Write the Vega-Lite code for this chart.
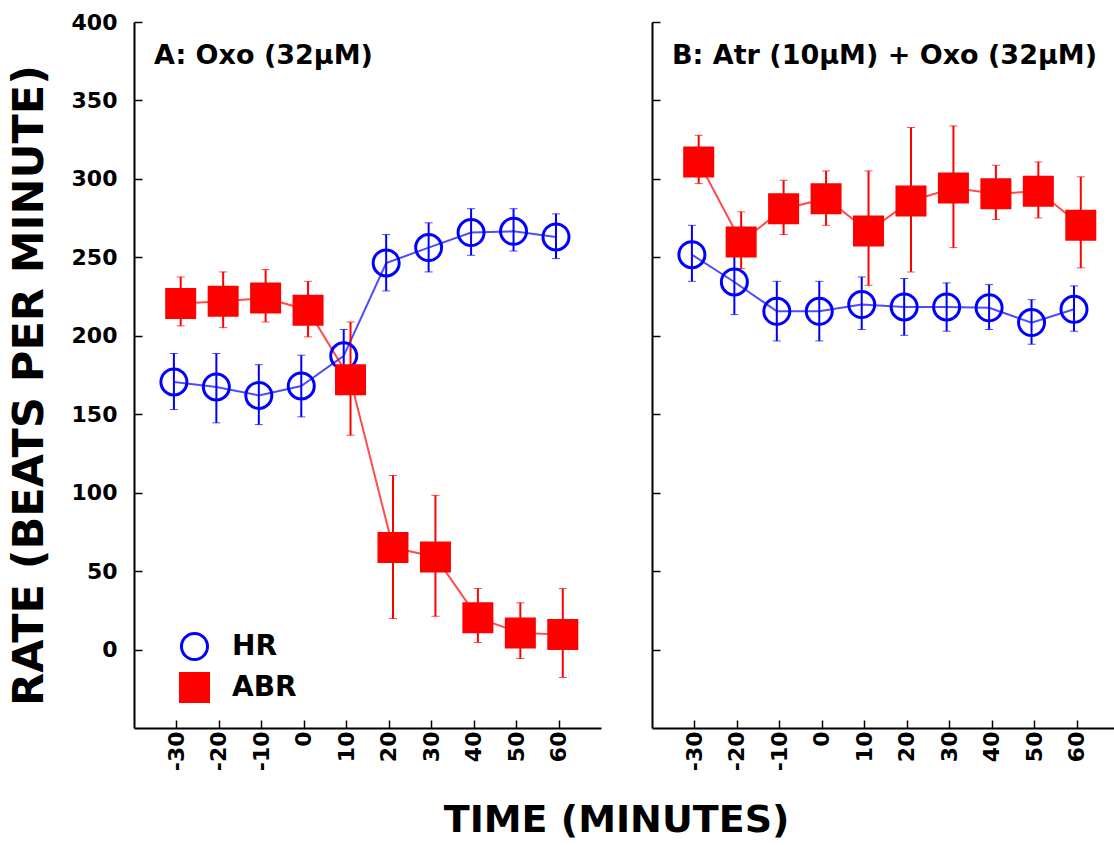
{
  "$schema": "https://vega.github.io/schema/vega-lite/v6.json",
  "background": "white",
  "padding": {"left": 8, "top": 11, "right": 0, "bottom": 5},
  "datasets": {
    "d": [
      {"panel": "A", "series": "HR", "time": -30.6, "rate": 170.6, "lo": 153.0, "hi": 188.7},
      {"panel": "A", "series": "HR", "time": -20.6, "rate": 167.4, "lo": 144.5, "hi": 188.7},
      {"panel": "A", "series": "HR", "time": -10.6, "rate": 162.0, "lo": 143.4, "hi": 181.6},
      {"panel": "A", "series": "HR", "time": -0.6, "rate": 168.0, "lo": 148.3, "hi": 187.6},
      {"panel": "A", "series": "HR", "time": 9.4, "rate": 187.2, "lo": 170.0, "hi": 204.0},
      {"panel": "A", "series": "HR", "time": 19.4, "rate": 246.4, "lo": 228.6, "hi": 264.5},
      {"panel": "A", "series": "HR", "time": 29.4, "rate": 256.2, "lo": 240.7, "hi": 272.0},
      {"panel": "A", "series": "HR", "time": 39.4, "rate": 265.8, "lo": 251.3, "hi": 281.0},
      {"panel": "A", "series": "HR", "time": 49.4, "rate": 266.6, "lo": 254.0, "hi": 281.0},
      {"panel": "A", "series": "HR", "time": 59.4, "rate": 263.0, "lo": 249.2, "hi": 277.7},
      {"panel": "A", "series": "ABR", "time": -29.0, "rate": 220.5, "lo": 206.3, "hi": 237.5},
      {"panel": "A", "series": "ABR", "time": -19.0, "rate": 222.0, "lo": 205.2, "hi": 240.7},
      {"panel": "A", "series": "ABR", "time": -9.0, "rate": 224.1, "lo": 208.8, "hi": 242.2},
      {"panel": "A", "series": "ABR", "time": 1.0, "rate": 216.3, "lo": 199.3, "hi": 234.7},
      {"panel": "A", "series": "ABR", "time": 11.0, "rate": 172.0, "lo": 136.6, "hi": 208.8},
      {"panel": "A", "series": "ABR", "time": 21.0, "rate": 65.0, "lo": 19.8, "hi": 111.0},
      {"panel": "A", "series": "ABR", "time": 31.0, "rate": 59.0, "lo": 21.2, "hi": 98.3},
      {"panel": "A", "series": "ABR", "time": 41.0, "rate": 20.2, "lo": 4.5, "hi": 38.9},
      {"panel": "A", "series": "ABR", "time": 51.0, "rate": 10.6, "lo": -5.7, "hi": 29.8},
      {"panel": "A", "series": "ABR", "time": 61.0, "rate": 9.6, "lo": -17.8, "hi": 38.9},
      {"panel": "B", "series": "HR", "time": -30.6, "rate": 251.7, "lo": 234.7, "hi": 270.4},
      {"panel": "B", "series": "HR", "time": -20.6, "rate": 234.3, "lo": 213.5, "hi": 255.0},
      {"panel": "B", "series": "HR", "time": -10.6, "rate": 215.6, "lo": 196.7, "hi": 234.7},
      {"panel": "B", "series": "HR", "time": -0.6, "rate": 215.6, "lo": 196.7, "hi": 234.7},
      {"panel": "B", "series": "HR", "time": 9.4, "rate": 219.9, "lo": 204.0, "hi": 237.5},
      {"panel": "B", "series": "HR", "time": 19.4, "rate": 218.4, "lo": 200.3, "hi": 236.5},
      {"panel": "B", "series": "HR", "time": 29.4, "rate": 218.4, "lo": 202.9, "hi": 233.7},
      {"panel": "B", "series": "HR", "time": 39.4, "rate": 217.8, "lo": 204.0, "hi": 232.6},
      {"panel": "B", "series": "HR", "time": 49.4, "rate": 208.4, "lo": 194.6, "hi": 223.0},
      {"panel": "B", "series": "HR", "time": 59.4, "rate": 216.9, "lo": 202.9, "hi": 231.8},
      {"panel": "B", "series": "ABR", "time": -29.0, "rate": 310.8, "lo": 297.0, "hi": 327.8},
      {"panel": "B", "series": "ABR", "time": -19.0, "rate": 259.8, "lo": 242.8, "hi": 279.0},
      {"panel": "B", "series": "ABR", "time": -9.0, "rate": 281.0, "lo": 264.5, "hi": 299.1},
      {"panel": "B", "series": "ABR", "time": 1.0, "rate": 287.4, "lo": 270.4, "hi": 305.1},
      {"panel": "B", "series": "ABR", "time": 11.0, "rate": 266.8, "lo": 232.2, "hi": 305.1},
      {"panel": "B", "series": "ABR", "time": 21.0, "rate": 285.9, "lo": 240.7, "hi": 332.7},
      {"panel": "B", "series": "ABR", "time": 31.0, "rate": 294.2, "lo": 256.2, "hi": 333.8},
      {"panel": "B", "series": "ABR", "time": 41.0, "rate": 290.6, "lo": 274.1, "hi": 308.7},
      {"panel": "B", "series": "ABR", "time": 51.0, "rate": 292.1, "lo": 275.1, "hi": 310.8},
      {"panel": "B", "series": "ABR", "time": 61.0, "rate": 270.4, "lo": 243.3, "hi": 301.3}
    ]
  },
  "title": {"text": "TIME (MINUTES)", "orient": "bottom", "anchor": "middle", "fontSize": 38, "font": "DejaVu Sans", "fontWeight": "bold", "color": "#000", "offset": 31, "dx": 53},
  "spacing": 50,
  "resolve": {"legend": {"fill": "independent", "stroke": "independent", "shape": "independent", "size": "independent"}},
  "config": {
    "view": {"stroke": null},
    "font": "DejaVu Sans",
    "axis": {"grid": false, "domainColor": "#000", "domainWidth": 2, "tickColor": "#000", "tickWidth": 1.5, "tickSize": -8, "labelFont": "DejaVu Sans", "labelFontWeight": "bold", "labelFontSize": 22, "labelColor": "#000", "titleFont": "DejaVu Sans", "titleFontWeight": "bold", "titleColor": "#000"}
  },
  "hconcat": [
    {
      "width": 467,
      "height": 706,
      "data": {"name": "d"},
      "transform": [{"filter": "datum.panel === 'A'"}],
      "layer": [
        {
          "transform": [{"filter": "datum.series === 'HR'"}],
          "mark": {"type": "line", "color": "#0000ff", "strokeWidth": 2, "opacity": 0.7},
          "encoding": {
            "x": {"field": "time", "type": "quantitative", "scale": {"domain": [-40, 70], "nice": false, "zero": false}, "axis": {"values": [-30, -20, -10, 0, 10, 20, 30, 40, 50, 60], "labelExpr": "'' + datum.value", "labelAngle": 270, "labelPadding": 11, "title": null}},
            "y": {"field": "rate", "type": "quantitative", "scale": {"domain": [-50, 400], "nice": false, "zero": false}, "axis": {"values": [0, 50, 100, 150, 200, 250, 300, 350, 400], "labelPadding": 25, "title": "RATE (BEATS PER MINUTE)", "titleFontSize": 43, "titlePadding": 20, "titleY": 363}}
          }
        },
        {
          "transform": [{"filter": "datum.series === 'HR'"}],
          "mark": {"type": "errorbar", "color": "#0000ff", "rule": {"strokeWidth": 2}, "ticks": {"size": 8, "strokeWidth": 2}},
          "encoding": {"x": {"field": "time", "type": "quantitative", "title": null}, "y": {"field": "lo", "type": "quantitative", "title": "RATE (BEATS PER MINUTE)"}, "y2": {"field": "hi"}}
        },
        {
          "transform": [{"filter": "datum.series === 'ABR'"}],
          "mark": {"type": "line", "color": "#ff0000", "strokeWidth": 2, "opacity": 0.7},
          "encoding": {"x": {"field": "time", "type": "quantitative", "title": null}, "y": {"field": "rate", "type": "quantitative", "title": "RATE (BEATS PER MINUTE)"}}
        },
        {
          "transform": [{"filter": "datum.series === 'ABR'"}],
          "mark": {"type": "errorbar", "color": "#ff0000", "rule": {"strokeWidth": 2}, "ticks": {"size": 8, "strokeWidth": 2}},
          "encoding": {"x": {"field": "time", "type": "quantitative", "title": null}, "y": {"field": "lo", "type": "quantitative", "title": "RATE (BEATS PER MINUTE)"}, "y2": {"field": "hi"}}
        },
        {
          "mark": {"type": "point", "strokeWidth": 3, "opacity": 1},
          "encoding": {
            "x": {"field": "time", "type": "quantitative", "title": null},
            "y": {"field": "rate", "type": "quantitative", "title": "RATE (BEATS PER MINUTE)"},
            "shape": {"field": "series", "type": "nominal", "scale": {"domain": ["HR", "ABR"], "range": ["circle", "square"]}, "legend": {"title": null, "orient": "none", "legendX": 45, "legendY": 610, "labelFontSize": 28, "labelFont": "DejaVu Sans", "labelFontWeight": "bold", "labelColor": "#000", "symbolStrokeWidth": 3, "rowPadding": 1, "labelOffset": 22, "padding": 0}},
            "fill": {"field": "series", "type": "nominal", "scale": {"domain": ["HR", "ABR"], "range": ["transparent", "#ff0000"]}, "legend": {"title": null, "orient": "none", "legendX": 45, "legendY": 610, "labelFontSize": 28, "labelFont": "DejaVu Sans", "labelFontWeight": "bold", "labelColor": "#000", "symbolStrokeWidth": 3, "rowPadding": 1, "labelOffset": 22, "padding": 0}},
            "stroke": {"field": "series", "type": "nominal", "scale": {"domain": ["HR", "ABR"], "range": ["#0000ff", "#ff0000"]}, "legend": {"title": null, "orient": "none", "legendX": 45, "legendY": 610, "labelFontSize": 28, "labelFont": "DejaVu Sans", "labelFontWeight": "bold", "labelColor": "#000", "symbolStrokeWidth": 3, "rowPadding": 1, "labelOffset": 22, "padding": 0}},
            "size": {"field": "series", "type": "nominal", "scale": {"domain": ["HR", "ABR"], "range": [676, 784]}, "legend": {"title": null, "orient": "none", "legendX": 45, "legendY": 610, "labelFontSize": 28, "labelFont": "DejaVu Sans", "labelFontWeight": "bold", "labelColor": "#000", "symbolStrokeWidth": 3, "rowPadding": 1, "labelOffset": 22, "padding": 0}}
          }
        },
        {
          "data": {"values": [{"panel": "A", "label": "A: Oxo (32μM)"}]},
          "mark": {"type": "text", "align": "left", "baseline": "alphabetic", "dx": 20, "dy": 42, "fontSize": 27, "font": "DejaVu Sans", "fontWeight": "bold", "color": "#000"},
          "encoding": {"x": {"datum": -40}, "y": {"datum": 400}, "text": {"field": "label"}}
        }
      ]
    },
    {
      "width": 467,
      "height": 706,
      "data": {"name": "d"},
      "transform": [{"filter": "datum.panel === 'B'"}],
      "layer": [
        {
          "transform": [{"filter": "datum.series === 'HR'"}],
          "mark": {"type": "line", "color": "#0000ff", "strokeWidth": 2, "opacity": 0.7},
          "encoding": {
            "x": {"field": "time", "type": "quantitative", "scale": {"domain": [-40, 70], "nice": false, "zero": false}, "axis": {"values": [-30, -20, -10, 0, 10, 20, 30, 40, 50, 60], "labelExpr": "'' + datum.value", "labelAngle": 270, "labelPadding": 11, "title": null}},
            "y": {"field": "rate", "type": "quantitative", "scale": {"domain": [-50, 400], "nice": false, "zero": false}, "axis": {"values": [0, 50, 100, 150, 200, 250, 300, 350, 400], "labels": false, "title": null}}
          }
        },
        {
          "transform": [{"filter": "datum.series === 'HR'"}],
          "mark": {"type": "errorbar", "color": "#0000ff", "rule": {"strokeWidth": 2}, "ticks": {"size": 8, "strokeWidth": 2}},
          "encoding": {"x": {"field": "time", "type": "quantitative", "title": null}, "y": {"field": "lo", "type": "quantitative", "title": null}, "y2": {"field": "hi"}}
        },
        {
          "transform": [{"filter": "datum.series === 'ABR'"}],
          "mark": {"type": "line", "color": "#ff0000", "strokeWidth": 2, "opacity": 0.7},
          "encoding": {"x": {"field": "time", "type": "quantitative", "title": null}, "y": {"field": "rate", "type": "quantitative", "title": null}}
        },
        {
          "transform": [{"filter": "datum.series === 'ABR'"}],
          "mark": {"type": "errorbar", "color": "#ff0000", "rule": {"strokeWidth": 2}, "ticks": {"size": 8, "strokeWidth": 2}},
          "encoding": {"x": {"field": "time", "type": "quantitative", "title": null}, "y": {"field": "lo", "type": "quantitative", "title": null}, "y2": {"field": "hi"}}
        },
        {
          "mark": {"type": "point", "strokeWidth": 3, "opacity": 1},
          "encoding": {
            "x": {"field": "time", "type": "quantitative", "title": null},
            "y": {"field": "rate", "type": "quantitative", "title": null},
            "shape": {"field": "series", "type": "nominal", "scale": {"domain": ["HR", "ABR"], "range": ["circle", "square"]}, "legend": null},
            "fill": {"field": "series", "type": "nominal", "scale": {"domain": ["HR", "ABR"], "range": ["transparent", "#ff0000"]}, "legend": null},
            "stroke": {"field": "series", "type": "nominal", "scale": {"domain": ["HR", "ABR"], "range": ["#0000ff", "#ff0000"]}, "legend": null},
            "size": {"field": "series", "type": "nominal", "scale": {"domain": ["HR", "ABR"], "range": [676, 784]}, "legend": null}
          }
        },
        {
          "data": {"values": [{"panel": "B", "label": "B: Atr (10μM) + Oxo (32μM)"}]},
          "mark": {"type": "text", "align": "left", "baseline": "alphabetic", "dx": 20, "dy": 42, "fontSize": 27, "font": "DejaVu Sans", "fontWeight": "bold", "color": "#000"},
          "encoding": {"x": {"datum": -40}, "y": {"datum": 400}, "text": {"field": "label"}}
        }
      ]
    }
  ]
}
